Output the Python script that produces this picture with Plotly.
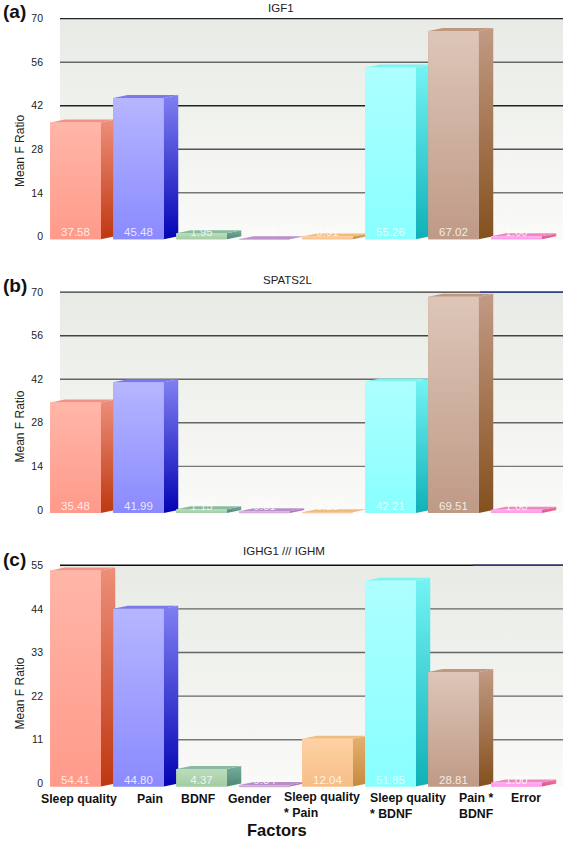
import plotly.graph_objects as go

# ---- data ----
categories = ["Sleep quality", "Pain", "BDNF", "Gender", "Sleep quality * Pain",
              "Sleep quality * BDNF", "Pain * BDNF", "Error"]
igf1_values = [37.58, 45.48, 1.95, 0.01, 0.91, 55.26, 67.02, 1.00]
spats2l_values = [35.48, 41.99, 1.15, 0.51, 0.20, 42.21, 69.51, 1.00]
ighg1_values = [54.41, 44.80, 4.37, 0.34, 12.04, 51.85, 28.81, 1.00]
ticks_70 = [0, 14, 28, 42, 56, 70]
ticks_55 = [0, 11, 22, 33, 44, 55]
panel_titles = ["IGF1", "SPATS2L", "IGHG1 /// IGHM"]
panel_tags = ["(a)", "(b)", "(c)"]
category_label_lines = [["Sleep quality"], ["Pain"], ["BDNF"], ["Gender"],
                        ["Sleep quality", "* Pain"], ["Sleep quality", "* BDNF"],
                        ["Pain *", "BDNF"], ["Error"]]

# ---- styles ----
W, H = 567, 841
FONT = "Liberation Sans"
front_cols = [("#FFB6A8", "#FF9A8A"), ("#B6B6FF", "#8A8AFF"), ("#BBDDBB", "#A4CCA4"), ("#DDBBE0", "#CFA8D8"),
              ("#FFD2A4", "#F6BE88"), ("#AEFFFF", "#88FFFF"), ("#DDC6B8", "#BF9A86"), ("#FFB0F4", "#FF98E8")]
side_cols = [("#EE8E7A", "#BE3810"), ("#8080F2", "#0404B4"), ("#78AC9C", "#4E8878"), ("#B884C4", "#A070B0"),
             ("#E6B070", "#C48A40"), ("#74F4F4", "#10B0B8"), ("#C29A84", "#84501E"), ("#F07CA8", "#D85088")]
top_cols = ["#EE9484", "#7A7AEE", "#88BCA0", "#B890C8", "#F0BC80", "#7CF4F0", "#BE9880", "#F088C0"]
grid_cols = [["#777777", "#555555", "#222222", "#666666", "#222222"],
             ["#777777", "#666666", "#666666", "#444444", "#333333"],
             ["#777777", "#666666", "#666666", "#666666", "#111111"]]

panels = [
    dict(vals=igf1_values, ticks=ticks_70, y0=234.2, ytop=15.7, title_x=281, title_y=5.5, tag_y=8.5, ylab_y=148.5, blue=None),
    dict(vals=spats2l_values, ticks=ticks_70, y0=508.7, ytop=290.2, title_x=287, title_y=278, tag_y=283.5, ylab_y=425, blue=480),
    dict(vals=ighg1_values, ticks=ticks_55, y0=783.2, ytop=564.2, title_x=284, title_y=550, tag_y=558.5, ylab_y=693, blue=473),
]

X_LEFT, X_RIGHT = 60, 563
AX_LEFT, AX_RIGHT = 46, 566
SPACING = 63.0
FIRST_C = 75.5
BAR_W = 50.5 / SPACING
DX = 14.5 / SPACING
DEPTH_PX = 3.0
PAD_BOTTOM, PAD_TOP = 6.0, 3.0
xr = [(AX_LEFT - FIRST_C) / SPACING, (AX_RIGHT - FIRST_C) / SPACING]
wx = [(X_LEFT - FIRST_C) / SPACING, (X_RIGHT - FIRST_C) / SPACING]

fig = go.Figure()
annotations = []
layout_axes = {}


def grad(top, bottom):
    return dict(type="vertical", colorscale=[[0, bottom], [1, top]])


for p, panel in enumerate(panels):
    sfx = "" if p == 0 else str(p + 1)
    xa, ya = "x" + sfx, "y" + sfx
    vals, ticks = panel["vals"], panel["ticks"]
    ymax = ticks[-1]
    u = ymax / (panel["y0"] - panel["ytop"])
    d = DEPTH_PX * u
    common = dict(xaxis=xa, yaxis=ya, showlegend=False, hoverinfo="skip")

    layout_axes["xaxis" + sfx] = dict(
        domain=[AX_LEFT / W, AX_RIGHT / W], range=xr, type="linear", anchor=ya,
        showgrid=False, zeroline=False, showticklabels=False, ticks="", showline=False)
    layout_axes["yaxis" + sfx] = dict(
        domain=[1 - (panel["y0"] + PAD_BOTTOM) / H, 1 - (panel["ytop"] - PAD_TOP) / H],
        range=[-PAD_BOTTOM * u, ymax + PAD_TOP * u], anchor=xa,
        tickvals=ticks, showgrid=False, zeroline=False, ticks="", showline=False,
        ticklabelstandoff=2, tickfont=dict(family=FONT, size=10.5, color="#222222"))

    # wall
    fig.add_trace(go.Scatter(
        x=[wx[0], wx[1], wx[1], wx[0], wx[0]], y=[-d, -d, ymax, ymax, -d], mode="lines",
        line=dict(width=0), fill="toself", fillgradient=grad("#E8EBE5", "#FAFAF8"), zorder=0, **common))

    # grid lines
    for t, col in zip(ticks[1:], grid_cols[p]):
        fig.add_trace(go.Scatter(x=wx, y=[t, t], mode="lines", line=dict(color=col, width=1.4), zorder=1, **common))
    if panel["blue"]:
        bx = (panel["blue"] - FIRST_C) / SPACING
        fig.add_trace(go.Scatter(x=[bx, wx[1]], y=[ymax, ymax], mode="lines",
                                 line=dict(color="#2A3A90", width=1.4), zorder=1, **common))

    # bars
    for i, v in enumerate(vals):
        l, r = i - BAR_W / 2, i + BAR_W / 2
        z = 2 + 2 * i
        fig.add_trace(go.Scatter(
            x=[r, r + DX, r + DX, r, r], y=[-d, 0, v, v - d, -d], mode="lines", line=dict(width=0),
            fill="toself", fillgradient=grad(*side_cols[i]), zorder=z, **common))
        fig.add_trace(go.Scatter(
            x=[l, l + DX, r + DX, r, l], y=[v - d, v, v, v - d, v - d], mode="lines", line=dict(width=0),
            fill="toself", fillcolor=top_cols[i], zorder=z, **common))
        fig.add_trace(go.Bar(
            x=[i], y=[v], base=[-d], width=BAR_W, marker=dict(color=front_cols[i][1], line=dict(width=0)),
            name=categories[i], zorder=z + 1, xaxis=xa, yaxis=ya, showlegend=False))
        fig.add_trace(go.Scatter(
            x=[l, r, r, l, l], y=[-d, -d, v - d, v - d, -d], mode="lines", line=dict(width=0),
            fill="toself", fillgradient=grad(*front_cols[i]), zorder=z + 1, **common))

    # value labels
    fig.add_trace(go.Scatter(
        x=list(range(len(vals))), y=[-d] * len(vals), mode="text", text=[f"{v:.2f}" for v in vals],
        textposition="top center", textfont=dict(family=FONT, size=11.5, color="rgba(255,255,255,0.82)"),
        zorder=40, **common))

    annotations.append(dict(text=panel_titles[p], xref="paper", yref="paper", x=panel["title_x"] / W,
                            y=1 - panel["title_y"] / H, xanchor="center", yanchor="middle", showarrow=False,
                            font=dict(family=FONT, size=11.5, color="#222222")))
    annotations.append(dict(text=f"<b>{panel_tags[p]}</b>", xref="paper", yref="paper", x=1 / W,
                            y=1 - panel["tag_y"] / H, xanchor="left", yanchor="middle", showarrow=False,
                            font=dict(family=FONT, size=19, color="#111111")))
    annotations.append(dict(text="Mean F Ratio", xref="paper", yref="paper", x=20 / W,
                            y=1 - panel["ylab_y"] / H, xanchor="center", yanchor="middle", textangle=-90,
                            showarrow=False, font=dict(family=FONT, size=12, color="#222222")))

# category labels under the last panel
label_left = [39, 135, 179, 226, 282, 368, 457, 509]
label_y = [799, 799, 799, 799, 797, 798, 798, 798]
for left, ly, lines in zip(label_left, label_y, category_label_lines):
    for k, line in enumerate(lines):
        annotations.append(dict(text=f"<b>{line}</b>", xref="paper", yref="paper", x=left / W,
                                y=1 - (ly + 16 * k) / H, xanchor="left", yanchor="middle", showarrow=False,
                                font=dict(family=FONT, size=12.3, color="#111111")))
annotations.append(dict(text="<b>Factors</b>", xref="paper", yref="paper", x=277 / W, y=1 - 830 / H,
                        xanchor="center", yanchor="middle", showarrow=False,
                        font=dict(family=FONT, size=16.5, color="#111111")))

fig.update_layout(width=W, height=H, margin=dict(l=0, r=0, t=0, b=0), autosize=False,
                  paper_bgcolor="white", plot_bgcolor="white", barmode="overlay",
                  annotations=annotations, showlegend=False, **layout_axes)
fig.write_html("out.html", config={"displayModeBar": False}, post_script="document.body.style.margin='0';")
